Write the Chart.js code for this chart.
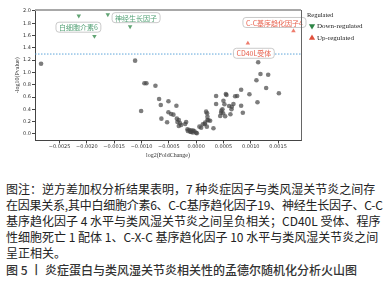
<!DOCTYPE html>
<html>
<head>
<meta charset="utf-8">
<script src="https://cdn.jsdelivr.net/npm/chart.js@4.4.1/dist/chart.umd.min.js"></script>
<style>
  html, body { margin: 0; padding: 0; background: #fff; }
  body { width: 390px; height: 284px; position: relative; overflow: hidden; }
  #wrap { position: absolute; left: 0; top: 0; width: 390px; height: 162px; }
  .cap { position: absolute; left: 6px; width: 377px; font-family: "Noto Sans CJK SC", sans-serif;
         font-size: 12px; line-height: 14px; color: #222; white-space: nowrap; }
  .fig { font-weight: 500; color: #333; }
</style>
</head>
<body>
<div id="wrap"><canvas id="volcano" width="390" height="162"></canvas></div>
<div class="cap fit" style="top:182px">图注：逆方差加权分析结果表明，7 种炎症因子与类风湿关节炎之间存</div>
<div class="cap fit" style="top:198px">在因果关系,其中白细胞介素6、C-C基序趋化因子19、神经生长因子、C-C</div>
<div class="cap fit" style="top:214px">基序趋化因子 4 水平与类风湿关节炎之间呈负相关；CD40L 受体、程序</div>
<div class="cap fit" style="top:230px">性细胞死亡 1 配体 1、C-X-C 基序趋化因子 10 水平与类风湿关节炎之间</div>
<div class="cap" style="top:246px">呈正相关。</div>
<div class="cap fig" style="top:263px">图 5 丨 炎症蛋白与类风湿关节炎相关性的孟德尔随机化分析火山图</div>
<script>
// non-significant proteins (grey dots)
const nsX = [-0.002839, -0.001117, -0.000947, -0.000910, -0.000745, -0.000678, -0.000507, -0.000647,
  -0.000361, -0.001007, -0.000507, -0.000458, -0.000416, -0.000636, -0.000531, -0.000353, -0.000317,
  -0.000342, -0.000293, -0.000275, -0.000317, -0.000183, -0.000201, -0.000159, -0.000123, -0.000086,
  -0.000055, -0.000031, -0.000092, 0.000000, 0.000013, -0.000152, -0.000110, -0.000060,
  0.000201, 0.000207, 0.000159, 0.000092, 0.000123, 0.000165, 0.000196, 0.000225, 0.000256, 0.000207,
  0.000317, 0.000183, 0.000060, 0.000366, 0.000366, 0.000544, 0.000555, 0.000500, 0.000518, 0.000604,
  0.000654, 0.000647, 0.000683, 0.000482, 0.000458, 0.000494, 0.000440, 0.000531, 0.000628, 0.000463,
  0.000714, 0.000751, 0.000824, 0.000824, 0.000855, 0.000976, 0.001104, 0.001136, 0.001178, 0.001319,
  0.001282, 0.001515, 0.001123];
const nsY = [1.143, 1.192, 0.824, 0.824, 0.785, 0.569, 0.532, 0.472,
  0.460, 0.374, 0.353, 0.325, 0.314, 0.249, 0.190, 0.249, 0.228,
  0.195, 0.174, 0.146, 0.130, 0.195, 0.163, 0.076, 0.065, 0.054,
  0.054, 0.044, 0.033, 0.021, 0.011, 0.049, 0.037, 0.024,
  0.337, 0.228, 0.163, 0.102, 0.158, 0.184, 0.119, 0.223, 0.216, 0.281,
  0.093, 0.363, 0.119, 0.488, 0.618, 0.650, 0.634, 0.541, 0.483, 0.455,
  0.444, 0.402, 0.488, 0.402, 0.346, 0.337, 0.293, 0.288, 0.320, 0.379,
  0.613, 0.618, 0.720, 0.460, 0.346, 0.646, 0.873, 1.166, 0.976, 0.964,
  0.748, 0.662, 0.515];

// down-regulated
const downX = [-0.002148, -0.001862, -0.001617, -0.001209];
const downY = [1.920, 1.590, 1.940, 1.745];
const downNames = ['', '白细胞介素6', '', '神经生长因子'];

// up-regulated
const upX = [0.001782, 0.000947];
const upY = [1.675, 1.475];
const upNames = ['C-C基序趋化因子4', 'CD40L受体'];

const xTicks = [-0.0025, -0.0020, -0.0015, -0.0010, -0.0005, 0, 0.0005, 0.0010, 0.0015];
const yTicks = [0, 0.2, 0.4, 0.6, 0.8, 1.0, 1.2, 1.4, 1.6, 1.8, 2.0];
const pCut = 1.3; // -log10(0.05)

const greenDot = 'rgba(46,133,70,0.75)';
const redDot = 'rgba(232,80,60,0.75)';

function pts(xs, ys) {
    return xs.map((x, i) => ({ x: x, y: ys[i] }));
}

// small offsets for the name boxes, in pixels from the marker
const boxOffsets = {
    down: [null, [-16, -9], null, [6, -9]],
    up: [[-19, -8.5], [6, 10]]
};

const extras = {
    id: 'extras',
    beforeDatasetsDraw(chart) {
        const { ctx, chartArea: a, scales } = chart;
        const yp = scales.y.getPixelForValue(pCut);
        ctx.save();
        ctx.strokeStyle = '#4c9bd6';
        ctx.lineWidth = 0.9;
        ctx.setLineDash([1.5, 1.5]);
        ctx.beginPath();
        ctx.moveTo(a.left, yp);
        ctx.lineTo(a.right, yp);
        ctx.stroke();
        ctx.restore();
    },
    afterDatasetsDraw(chart) {
        const { ctx, chartArea: a, scales } = chart;
        ctx.save();
        ctx.font = '7px "Noto Sans CJK SC", sans-serif';
        ctx.textAlign = 'center';
        ctx.textBaseline = 'middle';
        const groups = [
            { xs: downX, ys: downY, names: downNames, off: boxOffsets.down, col: '#55a277' },
            { xs: upX, ys: upY, names: upNames, off: boxOffsets.up, col: '#e8604c' }
        ];
        groups.forEach(g => {
            g.names.forEach((name, i) => {
                if (!name) return;
                const px = scales.x.getPixelForValue(g.xs[i]) + g.off[i][0];
                const py = scales.y.getPixelForValue(g.ys[i]) + g.off[i][1];
                const w = ctx.measureText(name).width + 6;
                const h = 10;
                ctx.beginPath();
                ctx.roundRect(px - w / 2, py - h / 2, w, h, 3);
                ctx.fillStyle = 'rgba(255,255,255,0.9)';
                ctx.fill();
                ctx.strokeStyle = '#bdbdbd';
                ctx.lineWidth = 0.8;
                ctx.stroke();
                ctx.fillStyle = g.col;
                ctx.fillText(name, px, py + 0.5);
            });
        });

        // frame: top and right
        ctx.strokeStyle = '#a8a8a8';
        ctx.lineWidth = 2;
        ctx.beginPath();
        ctx.moveTo(a.left, a.top);
        ctx.lineTo(a.right, a.top);
        ctx.stroke();
        ctx.strokeStyle = '#666';
        ctx.lineWidth = 1;
        ctx.beginPath();
        ctx.moveTo(a.right + 0.5, a.top);
        ctx.lineTo(a.right + 0.5, a.bottom);
        ctx.stroke();

        // legend
        const lx = a.right + 6;
        ctx.textAlign = 'left';
        ctx.fillStyle = '#222';
        ctx.font = '6.5px "Liberation Serif", serif';
        ctx.fillText('Regulated', lx, a.top + 5);
        const items = [
            { t: 'Down-regulated', c: '#2e8546', r: 180 },
            { t: 'Up-regulated', c: '#e0503c', r: 0 }
        ];
        items.forEach((it, i) => {
            const y = a.top + 16 + i * 12;
            ctx.fillStyle = it.c;
            Chart.helpers.drawPoint(ctx, { pointStyle: 'triangle', rotation: it.r, radius: 3.6, borderWidth: 0 }, lx + 5, y);
            ctx.fillStyle = '#222';
            ctx.font = '7px "Liberation Serif", serif';
            ctx.fillText(it.t, lx + 10, y + 0.5);
        });
        ctx.restore();
    }
};

const tickFont = { family: '"DejaVu Sans", sans-serif', size: 5 };

new Chart(document.getElementById('volcano'), {
    type: 'scatter',
    data: {
        datasets: [
            { label: 'NS', data: pts(nsX, nsY), backgroundColor: 'rgba(70,70,70,0.7)', borderWidth: 0, pointRadius: 2.3 },
            { label: 'Down-regulated', data: pts(downX, downY), backgroundColor: greenDot, borderWidth: 0,
              pointStyle: 'triangle', rotation: 180, pointRadius: 2.6 },
            { label: 'Up-regulated', data: pts(upX, upY), backgroundColor: redDot, borderWidth: 0,
              pointStyle: 'triangle', pointRadius: 2.6 }
        ]
    },
    options: {
        responsive: false,
        animation: false,
        devicePixelRatio: 1,
        layout: { padding: { left: 0, right: 89, top: 10, bottom: 0 } },
        plugins: { legend: { display: false }, tooltip: { enabled: false } },
        scales: {
            x: {
                type: 'linear',
                min: -0.00295,
                max: 0.00192,
                afterBuildTicks: s => { s.ticks = xTicks.map(v => ({ value: v })); },
                afterFit: s => { s.height = 21.5; },
                ticks: {
                    font: tickFont, color: '#333', padding: 0, maxRotation: 0,
                    callback: v => (v < 0 ? '\u2212' : '') + Math.abs(v).toFixed(4)
                },
                grid: { drawOnChartArea: false, drawTicks: true, tickLength: 3, color: '#444' },
                border: { color: '#444', width: 1 },
                title: { display: true, text: 'log2(FoldChange)', color: '#333',
                         font: { family: '"Liberation Serif", serif', size: 6 }, padding: { top: 0, bottom: 3.4 } }
            },
            y: {
                min: -0.106,
                max: 2.016,
                afterBuildTicks: s => { s.ticks = yTicks.map(v => ({ value: v })); },
                afterFit: s => { s.width = 35; },
                ticks: { font: tickFont, color: '#333', padding: 1, callback: v => v.toFixed(1) },
                grid: { drawOnChartArea: false, drawTicks: true, tickLength: 3, color: '#444' },
                border: { color: '#444', width: 1 },
                title: { display: true, text: '-log10(Pvalue)', color: '#333',
                         font: { family: '"Liberation Serif", serif', size: 6 }, padding: { top: 13.4, bottom: 0 } }
            }
        }
    },
    plugins: [extras]
});

// stretch the justified caption lines to the full text width
document.querySelectorAll('.cap.fit').forEach(el => {
    const n = el.textContent.length;
    const extra = 377 - el.scrollWidth;
    el.style.letterSpacing = (extra / n) + 'px';
});
</script>
</body>
</html>
